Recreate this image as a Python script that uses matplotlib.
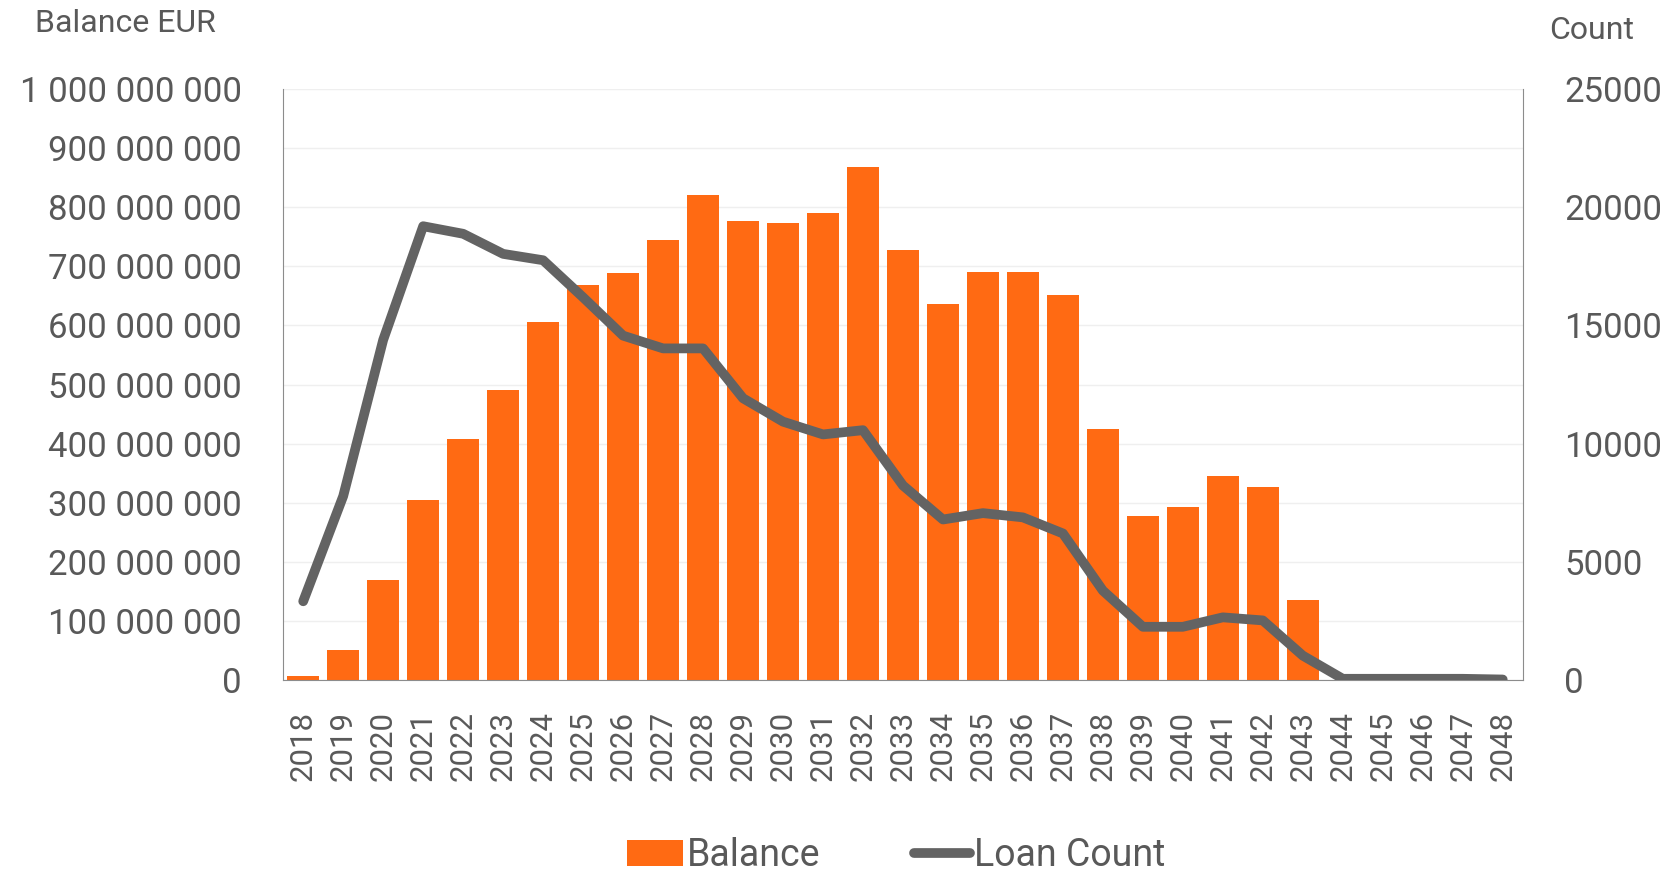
import numpy as np
import matplotlib.pyplot as plt
from matplotlib.ticker import FuncFormatter

plt.rcParams['font.family'] = ['Roboto', 'DejaVu Sans']

years = [str(y) for y in range(2018, 2049)]
balance = [7e6, 50e6, 169e6, 304e6, 408e6, 491e6, 606e6, 669e6, 689e6, 745e6,
           820e6, 777e6, 773e6, 790e6, 869e6, 728e6, 637e6, 691e6, 691e6, 651e6,
           424e6, 277e6, 293e6, 345e6, 327e6, 135e6, 0, 0, 0, 0, 0]
loan_count = [3330, 7780, 14390, 19200, 18880, 18030, 17760, 16190, 14570, 14030,
              14030, 11920, 10930, 10390, 10570, 8230, 6790, 7060, 6880, 6200,
              3780, 2250, 2250, 2650, 2520, 1030, 50, 50, 50, 50, 20]

text_col = '#595959'
bar_col = '#FF6A13'
line_col = '#636363'

fig = plt.figure(figsize=(16.66, 8.74), dpi=100)
ax = fig.add_axes([0.170, 0.222, 0.744, 0.676])
x = np.arange(len(years))
bars = ax.bar(x, balance, width=0.8, color=bar_col, zorder=2, label='Balance')
ax.set_ylim(0, 1e9)
ax.set_xlim(-0.5, len(years) - 0.5)
ax.set_yticks(np.arange(0, 1.01e9, 1e8))
ax.yaxis.set_major_formatter(FuncFormatter(lambda v, p: f'{int(v):,}'.replace(',', ' ')))
ax.set_xticks(x)
ax.set_xticklabels(years, rotation=90)
ax.grid(axis='y', color='#efefef', lw=1, zorder=0)
ax.tick_params(axis='y', length=0, labelsize=25, colors=text_col, pad=30)
ax.tick_params(axis='x', length=0, labelsize=22.5, colors=text_col, pad=22)
for s in ['top', 'right']:
    ax.spines[s].set_visible(False)
ax.spines['left'].set_color('#8c8c8c')
ax.spines['bottom'].set_color('#8c8c8c')

ax2 = ax.twinx()
line, = ax2.plot(x, loan_count, color=line_col, lw=7, solid_capstyle='round',
                 solid_joinstyle='round', zorder=3, label='Loan Count')
ax2.set_ylim(0, 25000)
ax2.set_yticks(np.arange(0, 25001, 5000))
ax2.tick_params(axis='y', length=0, labelsize=25, colors=text_col, pad=30)
for s in ['top', 'left', 'bottom']:
    ax2.spines[s].set_visible(False)
ax2.spines['right'].set_color('#8c8c8c')

fig.text(0.021, 0.973, 'Balance EUR', fontsize=23, color=text_col, va='center')
fig.text(0.930, 0.965, 'Count', fontsize=23, color=text_col, va='center')

fig.legend([bars, line], ['Balance', 'Loan Count'], loc='center',
           bbox_to_anchor=(0.538, 0.021), ncol=2, frameon=False, fontsize=27,
           labelcolor=text_col, handlelength=1.5, handletextpad=0.1,
           columnspacing=2.5)

fig.savefig('out.png', dpi=100)
